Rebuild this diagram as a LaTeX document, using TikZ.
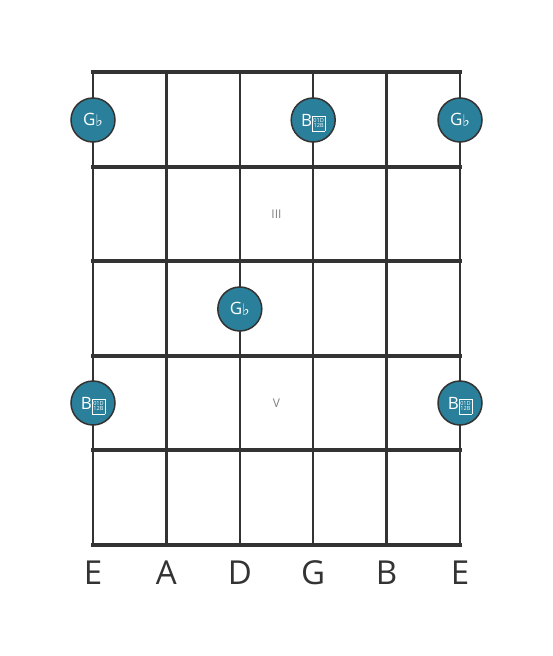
\documentclass[tikz,border=0pt]{standalone}
\usepackage{fontspec}
\setmainfont{Open Sans}
\newfontfamily\symfont{DejaVu Sans}
\definecolor{notefill}{HTML}{2A7F9B}
\definecolor{boardline}{HTML}{333333}
\newcommand{\flatsign}{{\symfont\fontsize{16}{16}\selectfont\raisebox{-0.5pt}{♭}}}
\newcommand{\dflatbox}{{\setlength{\fboxsep}{0.8pt}\setlength{\fboxrule}{0.6pt}%
  \raisebox{-1.8pt}[0pt][0pt]{\fbox{\fontsize{5.6}{6.4}\selectfont\begin{tabular}[b]{@{}c@{}}01D\\[-0.6pt]12B\end{tabular}}}}}

\begin{document}
\begin{tikzpicture}[
x=1pt, y=-1pt,
notenode/.style={circle, draw=boardline, line width=1.5pt, fill=notefill, minimum size=44pt, inner sep=0pt, text=white, font=\fontsize{17}{17}\selectfont},
stringname/.style={text=boardline, font=\fontsize{33}{33}\selectfont},
fretname/.style={text=black!50, font=\fontsize{12}{12}\selectfont},
]
\useasboundingbox (0,0) rectangle (553,656);

%Lines
\foreach \sx in {93,166.4,239.8,313.2,386.6,460}
  \draw[boardline, line width=2.5pt] (\sx,72) -- (\sx,545);
\foreach \fy in {72,166.6,261.2,355.8,450.4,545}
  \draw[boardline, line width=4pt] (91,\fy) -- (462,\fy);

%Fret numbers
\node[fretname] (fret3) at (276.5,214) {III};
\node[fretname] (fret5) at (276.5,403) {V};

%Notes
\node[notenode] (n1) at (93,120)    {G\flatsign};
\node[notenode] (n2) at (313.2,120) {B\dflatbox};
\node[notenode] (n3) at (460,120)   {G\flatsign};
\node[notenode] (n4) at (239.8,309) {G\flatsign};
\node[notenode] (n5) at (93,403)    {B\dflatbox};
\node[notenode] (n6) at (460,403)   {B\dflatbox};

%String names
\node[stringname] (s1) at (93,573)    {E};
\node[stringname] (s2) at (166.4,573) {A};
\node[stringname] (s3) at (239.8,573) {D};
\node[stringname] (s4) at (313.2,573) {G};
\node[stringname] (s5) at (386.6,573) {B};
\node[stringname] (s6) at (460,573)   {E};
\end{tikzpicture}
\end{document}
